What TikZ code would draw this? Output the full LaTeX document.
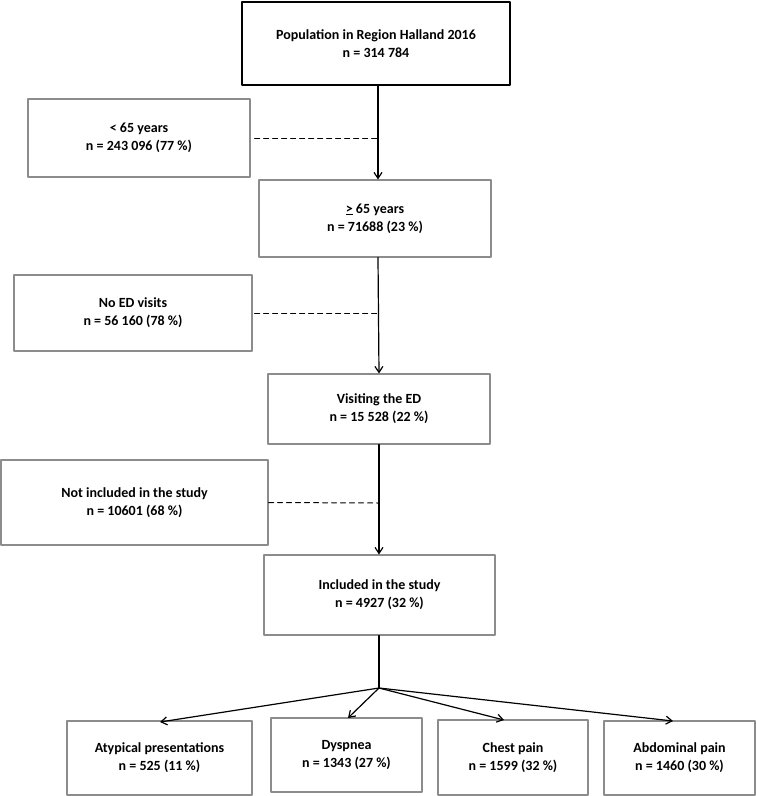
\documentclass[tikz,border=0pt]{standalone}
\usepackage{fontspec}
\setmainfont{Carlito}
\usetikzlibrary{arrows.meta}

\begin{document}
\begin{tikzpicture}[
	x=1pt,
	y=-1pt,
	line cap=round,
	line join=round,
	>={Straight Barb[length=6pt,width=8pt]},
	every node/.style={align=center, font=\fontsize{14}{18}\selectfont\bfseries},
	stage/.style={
		shape=rectangle,
		draw=black!45,
		line width=1.1pt,
		inner sep=0pt
	},
	flow/.style={line width=1.2pt, ->},
	excluded/.style={line width=1pt, dashed, dash pattern=on 5pt off 4pt}
	]
	\useasboundingbox (0,0) rectangle (756,796);
	% main column
	\node [stage, draw=black, line width=2pt, minimum width=268pt, minimum height=83pt] (population) at (376,43.5) {
		Population in Region Halland 2016\\ n = 314 784
	};
	\node [stage, minimum width=232pt, minimum height=77pt] (older) at (375,218.5) {
		\underline{>} 65 years\\ n = 71688 (23 \%)
	};
	\node [stage, minimum width=222pt, minimum height=70pt] (visiting) at (379,409) {
		Visiting the ED\\ n = 15 528 (22 \%)
	};
	\node [stage, minimum width=231pt, minimum height=80pt] (included) at (379.5,595) {
		Included in the study\\ n = 4927 (32 \%)
	};
	% excluded boxes
	\node [stage, minimum width=222pt, minimum height=78pt] (younger) at (139,138) {
		< 65 years\\ n = 243 096 (77 \%)
	};
	\node [stage, minimum width=238pt, minimum height=76pt] (noed) at (133,313) {
		No ED visits\\ n = 56 160 (78 \%)
	};
	\node [stage, minimum width=267pt, minimum height=85pt] (notincl) at (134.5,502.5) {
		Not included in the study\\ n = 10601 (68 \%)
	};
	% presentations
	\node [stage, minimum width=185pt, minimum height=74pt] (atypical) at (159.5,758) {
		Atypical presentations\\ n = 525 (11 \%)
	};
	\node [stage, minimum width=151pt, minimum height=74pt] (dyspnea) at (346.5,755) {
		Dyspnea\\ n = 1343 (27 \%)
	};
	\node [stage, minimum width=150pt, minimum height=75pt] (chest) at (513,757.5) {
		Chest pain\\ n = 1599 (32 \%)
	};
	\node [stage, minimum width=151pt, minimum height=74pt] (abdominal) at (679.5,758) {
		Abdominal pain\\ n = 1460 (30 \%)
	};
	\coordinate (split) at (379,688);
	\coordinate (m1) at (378,138);
	\coordinate (m2) at (378,313);
	\coordinate (m3) at (379,503);
	% connectors
	\draw [flow] (population.south -| m1) -- (older.north -| m1);
	\draw [flow] (older.south -| m2) -- (visiting.north -| m3);
	\draw [flow] (visiting.south -| m3) -- (included.north -| m3);
	\draw [line width=1.2pt] (included.south -| split) -- (split);
	\draw [flow] (split) -- (160,722);
	\draw [flow] (split) -- (348,718);
	\draw [flow] (split) -- (504,720);
	\draw [flow] (split) -- (673,721);
	\draw [excluded] (younger.east) ++(4,0) -- (m1);
	\draw [excluded] (noed.east) ++(2,0) -- (m2);
	\draw [excluded] (notincl.east) -- (m3);
\end{tikzpicture}
\end{document}
